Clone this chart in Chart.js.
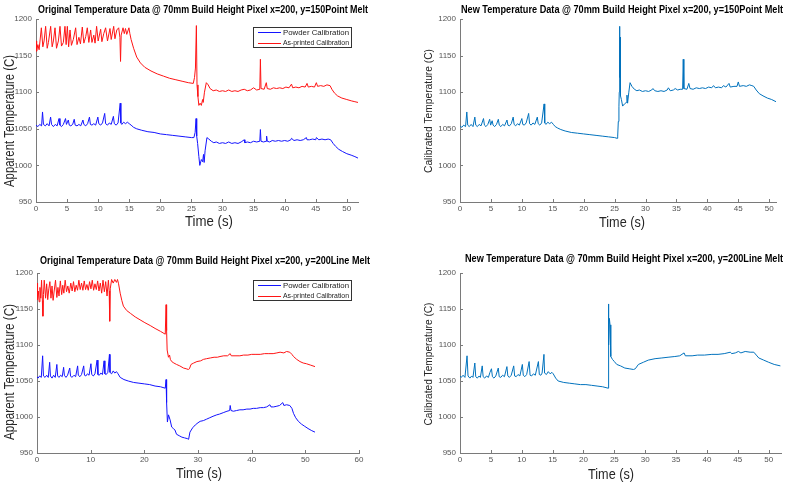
<!DOCTYPE html>
<html><head><meta charset="utf-8">
<script src="https://cdn.jsdelivr.net/npm/chart.js@4"></script>
<style>
html,body{margin:0;padding:0;background:#fff;width:787px;height:484px;overflow:hidden;}
.p{position:absolute;}
canvas{display:block;}
</style>
</head><body>
<div class="p" style="left:0;top:0;"><canvas id="cA" width="400" height="240"></canvas></div>
<div class="p" style="left:400px;top:0;"><canvas id="cB" width="387" height="240"></canvas></div>
<div class="p" style="left:0;top:240px;"><canvas id="cC" width="400" height="244"></canvas></div>
<div class="p" style="left:400px;top:240px;"><canvas id="cD" width="387" height="244"></canvas></div>
<script>
// ---------------- DATA ----------------
const titleA = "Original Temperature Data @ 70mm Build Height Pixel x=200, y=150Point Melt";
const titleB = "New Temperature Data @ 70mm Build Height Pixel x=200, y=150Point Melt";
const titleC = "Original Temperature Data @ 70mm Build Height Pixel x=200, y=200Line Melt";
const titleD = "New Temperature Data @ 70mm Build Height Pixel x=200, y=200Line Melt";
const seriesNames = ["Powder Calibration", "As-printed Calibration"];
const yTitleLeft = "Apparent Temperature (C)";
const yTitleRight = "Calibrated Temperature (C)";
const xTitle = "Time (s)";

const yTicks = [950, 1000, 1050, 1100, 1150, 1200];
const xTicks50 = [0, 5, 10, 15, 20, 25, 30, 35, 40, 45, 50];
const xTicks60 = [0, 10, 20, 30, 40, 50, 60];

// [time (s), temperature (C)]
const powderA = [[0,1055],[0.3,1053],[0.6,1056],[0.9,1054],[1.05,1073],[1.2,1056],[1.5,1054],[1.8,1057],[2.1,1054],[2.35,1066],[2.5,1056],[2.8,1053],[3.1,1056],[3.4,1054],[3.7,1064],[3.85,1055],[4.1,1053],[4.4,1056],[4.75,1064],[4.9,1056],[5.2,1062],[5.35,1055],[5.6,1054],[5.9,1056],[6.15,1063],[6.3,1055],[6.6,1054],[6.9,1056],[7.2,1054],[7.55,1062],[7.7,1056],[8.0,1054],[8.3,1057],[8.6,1066],[8.75,1056],[9.0,1055],[9.3,1057],[9.6,1055],[9.95,1066],[10.1,1057],[10.4,1055],[10.7,1058],[11.05,1071],[11.2,1057],[11.5,1055],[11.8,1058],[12.1,1056],[12.45,1067],[12.6,1057],[12.9,1055],[13.2,1058],[13.55,1085],[13.65,1058],[13.8,1056],[14.1,1059],[14.4,1057],[14.7,1059],[15.0,1057],[15.3,1055],[15.7,1052],[16.2,1050],[17,1048],[18,1046],[19,1045],[20,1043],[21,1042],[22,1041],[23,1040],[24,1039],[25,1038],[25.4,1038],[25.6,1045],[25.75,1064],[25.85,1040],[26.0,1030],[26.2,1012],[26.35,1000],[26.6,1008],[26.8,1005],[26.95,1015],[27.05,1004],[27.2,1020],[27.5,1038],[27.8,1036],[28.2,1033],[28.6,1031],[29,1032],[29.5,1030],[30,1031],[30.5,1030],[31,1032],[31.5,1030],[32,1031],[32.5,1030],[33,1032],[33.5,1035],[33.6,1031],[34,1032],[34.5,1031],[35,1033],[35.5,1032],[36.0,1033],[36.1,1049],[36.2,1033],[36.6,1032],[37.0,1033],[37.1,1040],[37.2,1033],[37.6,1032],[38,1034],[38.5,1033],[39,1034],[39.5,1033],[40,1034],[40.5,1033],[41,1035],[41.1,1037],[41.5,1034],[42,1035],[42.5,1034],[43,1035],[43.5,1038],[43.6,1035],[44,1035],[44.5,1036],[45,1035],[45.1,1038],[45.5,1035],[46,1036],[46.5,1035],[47,1036],[47.4,1035],[47.8,1030],[48.2,1026],[48.7,1022],[49.3,1019],[50,1016],[50.7,1014],[51.3,1012],[51.8,1010]];

const printedA = [[0,1170],[0.1,1156],[0.3,1165],[0.5,1158],[0.86,1188],[1.1,1162],[1.3,1170],[1.55,1190],[1.8,1160],[2.0,1168],[2.36,1190],[2.6,1162],[2.8,1170],[3.06,1188],[3.3,1160],[3.6,1170],[3.86,1190],[4.1,1163],[4.4,1168],[4.66,1190],[4.85,1165],[5.04,1190],[5.25,1162],[5.47,1185],[5.7,1164],[6.0,1172],[6.38,1188],[6.6,1165],[6.9,1175],[7.15,1166],[7.45,1189],[7.7,1167],[8.0,1176],[8.25,1188],[8.5,1168],[8.79,1185],[9.0,1168],[9.3,1178],[9.5,1167],[9.75,1190],[10.0,1170],[10.4,1186],[10.6,1169],[10.9,1180],[11.2,1188],[11.5,1170],[11.9,1187],[12.1,1172],[12.5,1190],[12.7,1173],[13.0,1185],[13.3,1188],[13.5,1175],[13.6,1142],[13.7,1178],[14.0,1188],[14.2,1180],[14.4,1187],[14.6,1179],[14.95,1188],[15.1,1180],[15.3,1172],[15.7,1160],[16.2,1148],[16.8,1140],[17.5,1134],[18.5,1129],[19.5,1125],[20.5,1122],[21.5,1119],[22.5,1117],[23.5,1115],[24.5,1113],[25.3,1112],[25.5,1120],[25.65,1133],[25.8,1191],[25.9,1110],[26.05,1094],[26.2,1082],[26.4,1085],[26.6,1082],[26.8,1090],[26.9,1086],[27.1,1100],[27.4,1113],[27.7,1110],[28.0,1105],[28.5,1102],[29,1103],[29.5,1101],[30,1102],[30.5,1101],[31,1103],[31.5,1101],[32,1102],[32.5,1101],[33,1103],[33.5,1104],[34,1102],[34.5,1103],[35,1106],[35.5,1103],[36.0,1104],[36.1,1145],[36.2,1105],[36.7,1104],[37.05,1113],[37.2,1105],[37.7,1104],[38.2,1106],[38.7,1105],[39.2,1106],[39.7,1105],[40.2,1107],[40.7,1106],[41.1,1111],[41.3,1106],[41.8,1107],[42.3,1106],[42.8,1108],[43.3,1107],[43.6,1112],[43.8,1107],[44.3,1108],[44.8,1107],[45.1,1113],[45.3,1108],[45.8,1109],[46.3,1108],[46.8,1110],[47.3,1109],[47.6,1104],[48,1099],[48.5,1095],[49.2,1092],[50,1090],[50.8,1088],[51.3,1087],[51.8,1086]];

const newB = [[0,1054],[0.3,1052],[0.6,1055],[0.9,1053],[1.1,1073],[1.25,1055],[1.5,1053],[1.8,1056],[2.1,1053],[2.4,1066],[2.55,1055],[2.8,1053],[3.1,1056],[3.4,1054],[3.8,1064],[3.95,1055],[4.2,1053],[4.5,1056],[4.8,1063],[4.95,1055],[5.2,1061],[5.35,1055],[5.6,1053],[5.9,1056],[6.2,1063],[6.35,1055],[6.6,1053],[6.9,1056],[7.2,1054],[7.6,1062],[7.75,1055],[8.0,1054],[8.3,1057],[8.6,1066],[8.75,1056],[9.0,1054],[9.3,1057],[9.6,1055],[10.0,1064],[10.15,1056],[10.4,1055],[10.7,1058],[11.1,1071],[11.25,1057],[11.5,1055],[11.8,1058],[12.1,1056],[12.5,1066],[12.65,1057],[12.9,1055],[13.2,1058],[13.6,1084],[13.7,1058],[13.9,1056],[14.2,1059],[14.5,1057],[14.8,1059],[15.1,1056],[15.4,1053],[15.8,1051],[16.3,1049],[17,1047],[18,1045],[19,1044],[20,1043],[21,1042],[22,1041],[23,1040],[24,1039],[25,1038],[25.4,1037],[25.5,1040],[25.6,1060],[25.7,1080],[25.75,1100],[25.8,1190],[25.85,1120],[25.9,1175],[25.95,1095],[26.1,1090],[26.3,1081],[26.6,1084],[26.9,1086],[27.0,1096],[27.1,1085],[27.3,1100],[27.5,1113],[27.8,1108],[28.2,1104],[28.6,1102],[29,1103],[29.5,1101],[30,1102],[30.5,1101],[31,1103],[31.2,1105],[31.5,1102],[32,1101],[32.5,1102],[33,1101],[33.5,1103],[33.7,1106],[34,1102],[34.5,1103],[34.8,1105],[35.2,1103],[35.6,1104],[36.0,1104],[36.1,1145],[36.2,1105],[36.7,1104],[37.0,1112],[37.2,1105],[37.7,1104],[38.2,1106],[38.7,1105],[39.2,1106],[39.7,1105],[40.2,1107],[40.7,1106],[41.0,1109],[41.3,1106],[41.8,1107],[42.3,1106],[42.6,1109],[43.0,1107],[43.5,1112],[43.7,1107],[44.3,1108],[44.8,1108],[45.0,1114],[45.2,1108],[45.8,1109],[46.3,1108],[46.8,1110],[47.2,1109],[47.5,1108],[47.9,1103],[48.4,1098],[49,1095],[49.7,1092],[50.4,1090],[51.1,1087]];

const powderC = [[0,1056],[0.2,1054],[0.5,1057],[0.8,1055],[1.05,1085],[1.2,1057],[1.5,1055],[1.8,1058],[2.1,1055],[2.36,1076],[2.5,1057],[2.8,1054],[3.1,1058],[3.4,1055],[3.7,1073],[3.85,1057],[4.1,1055],[4.4,1058],[4.7,1056],[4.96,1069],[5.1,1058],[5.4,1055],[5.7,1058],[6.1,1068],[6.25,1057],[6.5,1055],[6.9,1058],[7.2,1056],[7.57,1071],[7.7,1058],[8.0,1056],[8.3,1059],[8.7,1071],[8.85,1058],[9.1,1057],[9.4,1060],[9.7,1058],[10.05,1074],[10.2,1059],[10.5,1057],[10.8,1060],[11.2,1079],[11.35,1059],[11.6,1058],[11.9,1061],[12.2,1059],[12.5,1078],[12.65,1060],[12.9,1059],[13.2,1062],[13.5,1087],[13.6,1062],[13.9,1060],[14.2,1064],[14.5,1061],[14.8,1063],[15.1,1060],[15.5,1055],[16.2,1052],[17,1050],[18,1048],[19,1047],[20,1046],[21,1045],[22,1043],[23,1042],[23.9,1040],[24.05,1052],[24.15,1020],[24.3,993],[24.5,1003],[24.8,996],[25.1,986],[25.4,984],[25.7,982],[26.0,976],[26.5,974],[27,972],[27.5,971],[28.0,970],[28.25,969],[28.5,979],[29,985],[29.5,989],[30,992],[30.4,994],[31,995],[31.6,997],[32.2,999],[32.8,1001],[33.5,1003],[34,1004],[34.7,1006],[35.4,1008],[35.9,1009],[36.0,1016],[36.15,1009],[36.6,1008],[37.2,1009],[37.8,1010],[38.4,1010],[39.1,1011],[39.7,1011],[40.3,1012],[40.9,1012],[41.6,1013],[42.2,1013],[42.8,1014],[43.4,1017],[43.6,1014],[44.1,1014],[44.7,1015],[45.2,1016],[45.8,1020],[46.0,1016],[46.5,1017],[47.1,1016],[47.5,1012],[47.8,1005],[48.2,999],[48.7,994],[49.3,990],[49.9,987],[50.5,984],[51.2,981],[51.8,979]];

const printedC = [[0,1186],[0.1,1163],[0.25,1175],[0.4,1160],[0.55,1180],[0.7,1165],[0.85,1190],[1.0,1162],[1.1,1140],[1.2,1170],[1.35,1190],[1.6,1165],[1.8,1185],[2.0,1163],[2.2,1178],[2.4,1188],[2.6,1165],[2.8,1182],[3.0,1162],[3.2,1175],[3.45,1190],[3.7,1166],[3.9,1180],[4.1,1168],[4.35,1189],[4.6,1170],[4.8,1183],[5.0,1172],[5.25,1190],[5.5,1174],[5.75,1182],[6.0,1172],[6.3,1186],[6.55,1175],[6.8,1188],[7.05,1174],[7.3,1183],[7.55,1176],[7.8,1190],[8.05,1177],[8.3,1186],[8.55,1176],[8.8,1189],[9.05,1177],[9.3,1184],[9.55,1176],[9.8,1188],[10.05,1178],[10.3,1190],[10.55,1176],[10.8,1185],[11.05,1177],[11.3,1189],[11.55,1175],[11.8,1186],[12.05,1172],[12.3,1190],[12.55,1174],[12.8,1188],[13.05,1168],[13.3,1190],[13.45,1175],[13.55,1133],[13.65,1178],[13.9,1191],[14.2,1186],[14.5,1191],[14.8,1187],[15.0,1191],[15.2,1185],[15.5,1172],[15.8,1162],[16.1,1154],[16.7,1148],[17.4,1144],[18.3,1139],[19.2,1135],[20.1,1131],[21.1,1127],[22.0,1123],[23.0,1119],[23.9,1115],[24.05,1156],[24.15,1120],[24.25,1093],[24.5,1083],[24.7,1086],[24.85,1080],[25.1,1077],[25.5,1075],[26,1073],[26.6,1071],[27.3,1068],[27.8,1067],[28.2,1066],[28.4,1067],[28.7,1073],[29.2,1075],[29.8,1077],[30.5,1078],[31.0,1080],[31.6,1081],[32.3,1082],[33.0,1083],[33.6,1083],[34.1,1084],[34.8,1085],[35.5,1085],[36.0,1088],[36.2,1085],[36.9,1085],[37.8,1085],[38.5,1086],[39.3,1086],[40.0,1087],[40.8,1087],[41.6,1087],[42.4,1088],[43.2,1088],[44.0,1088],[44.7,1089],[45.3,1090],[46.0,1089],[46.5,1091],[47.1,1090],[47.5,1087],[47.8,1084],[48.4,1080],[49,1077],[49.6,1075],[50.2,1074],[51,1072],[51.8,1070]];

const newD = [[0,1057],[0.2,1055],[0.5,1058],[0.8,1055],[1.14,1085],[1.3,1057],[1.6,1054],[1.9,1057],[2.1,1055],[2.4,1075],[2.55,1056],[2.8,1054],[3.1,1057],[3.3,1055],[3.6,1071],[3.75,1056],[4.0,1054],[4.3,1057],[4.6,1055],[4.85,1062],[5.1,1067],[5.25,1056],[5.5,1054],[5.8,1057],[6.2,1068],[6.35,1056],[6.6,1055],[6.9,1058],[7.2,1056],[7.6,1070],[7.75,1057],[8.0,1055],[8.3,1058],[8.7,1071],[8.85,1057],[9.1,1056],[9.4,1059],[9.7,1057],[10.1,1073],[10.25,1058],[10.5,1056],[10.8,1059],[11.2,1077],[11.35,1058],[11.6,1057],[11.9,1060],[12.2,1058],[12.7,1077],[12.85,1059],[13.1,1058],[13.3,1061],[13.6,1087],[13.7,1061],[14.0,1059],[14.3,1063],[14.6,1060],[14.9,1062],[15.1,1060],[15.5,1054],[15.9,1050],[16.8,1048],[17.7,1047],[18.6,1046],[19.5,1045],[20.4,1045],[21.3,1044],[22.2,1043],[23.1,1042],[24.0,1040],[24.05,1157],[24.1,1100],[24.2,1137],[24.3,1128],[24.4,1090],[24.45,1084],[24.7,1080],[25.0,1077],[25.4,1073],[26.0,1071],[26.7,1068],[27.4,1067],[28.1,1066],[28.4,1067],[28.9,1073],[29.7,1076],[30.5,1079],[31.6,1081],[32.7,1082],[33.7,1083],[34.8,1084],[35.6,1085],[36.3,1089],[36.5,1085],[37.6,1085],[38.5,1086],[39.6,1086],[40.8,1087],[41.8,1087],[42.8,1088],[43.8,1090],[44.0,1088],[44.6,1089],[45.1,1091],[45.5,1089],[46.2,1091],[47.0,1090],[47.6,1090],[48.0,1086],[48.4,1082],[49.2,1079],[50,1076],[50.9,1073],[51.9,1071]];

const yRange = [950, 1200];
const xMaxA = 51.8, xMaxB = 51.1, xMaxC = 60, xMaxD = 52;

// ---------------- STYLE / LAYOUT ----------------
const NARROW = '"Liberation Sans Narrow", "Liberation Sans", Arial, sans-serif';
const AXIS_COLOR = '#7a7a7a';
const TICK_COLOR = '#555555';
const BLUE = 'rgb(20,20,255)';
const RED = 'rgb(255,20,20)';
const MATBLUE = 'rgb(0,114,189)';

function pts(arr){ return arr.map(p => ({x:p[0], y:p[1]})); }

const panels = [
  {id:'A', canvas:'cA', reg:[0,0,400,240], plot:[36,19,358,202], xmax:xMaxA, xt:xTicks50,
   title:titleA, tpos:[203,10,330], ytitle:yTitleLeft, ypos:[10,121,132], yfont:15,
   xpos:[209,222,48], legend:[253,27,352,48],
   sets:[{d:powderA,c:BLUE},{d:printedA,c:RED}]},
  {id:'B', canvas:'cB', reg:[400,0,787,240], plot:[460,19,776,202], xmax:xMaxB, xt:xTicks50,
   title:titleB, tpos:[622,10,322], ytitle:yTitleRight, ypos:[429,111,124], yfont:11.5,
   xpos:[622,223,46], legend:null,
   sets:[{d:newB,c:MATBLUE}]},
  {id:'C', canvas:'cC', reg:[0,240,400,484], plot:[37,273,359,453], xmax:xMaxC, xt:xTicks60,
   title:titleC, tpos:[205,261,330], ytitle:yTitleLeft, ypos:[10,372,136], yfont:15,
   xpos:[199,474,46], legend:[253,280,352,301],
   sets:[{d:powderC,c:BLUE},{d:printedC,c:RED}]},
  {id:'D', canvas:'cD', reg:[400,240,787,484], plot:[460,273,781,453], xmax:xMaxD, xt:xTicks50,
   title:titleD, tpos:[624,259,318], ytitle:yTitleRight, ypos:[429,364,123], yfont:11.5,
   xpos:[611,475,46], legend:null,
   sets:[{d:newD,c:MATBLUE}]}
];

const YW = 30, XH = 14;

function decor(p){
  const ox = p.reg[0], oy = p.reg[1];
  return {
    id: 'decor' + p.id,
    afterDraw(chart){
      const ctx = chart.ctx, a = chart.chartArea, xs = chart.scales.x, ys = chart.scales.y;
      ctx.save();
      // inward ticks
      ctx.strokeStyle = AXIS_COLOR; ctx.lineWidth = 1;
      ctx.beginPath();
      xs.ticks.forEach(t => { const x = Math.round(xs.getPixelForValue(t.value)) + 0.5; ctx.moveTo(x, a.bottom); ctx.lineTo(x, a.bottom - 3); });
      ys.ticks.forEach(t => { const y = Math.round(ys.getPixelForValue(t.value)) + 0.5; ctx.moveTo(a.left, y); ctx.lineTo(a.left + 3, y); });
      ctx.stroke();
      // title
      ctx.fillStyle = '#000';
      ctx.textAlign = 'center'; ctx.textBaseline = 'middle';
      ctx.font = 'bold 10.5px ' + NARROW;
      ctx.fillText(p.title, p.tpos[0] - ox, p.tpos[1] - oy, p.tpos[2]);
      // x title
      ctx.fillStyle = '#262626';
      ctx.font = '15px ' + NARROW;
      ctx.fillText(xTitle, p.xpos[0] - ox, p.xpos[1] - oy, p.xpos[2]);
      // y title
      ctx.save();
      ctx.translate(p.ypos[0] - ox, p.ypos[1] - oy);
      ctx.rotate(-Math.PI / 2);
      ctx.font = p.yfont + 'px ' + NARROW;
      ctx.fillText(p.ytitle, 0, 0, p.ypos[2]);
      ctx.restore();
      // legend
      if (p.legend) {
        const l = p.legend[0] - ox, t = p.legend[1] - oy, r = p.legend[2] - ox, b = p.legend[3] - oy;
        ctx.fillStyle = '#fff';
        ctx.fillRect(l, t, r - l, b - t);
        ctx.strokeStyle = '#333'; ctx.lineWidth = 1;
        ctx.strokeRect(l + 0.5, t + 0.5, r - l - 1, b - t - 1);
        const rows = [t + (b - t) * 0.26, t + (b - t) * 0.74];
        p.sets.forEach((s, i) => {
          const ry = Math.round(rows[i]) + 0.5;
          ctx.strokeStyle = s.c; ctx.lineWidth = 1;
          ctx.beginPath(); ctx.moveTo(l + 5, ry); ctx.lineTo(l + 28, ry); ctx.stroke();
          ctx.fillStyle = '#222'; ctx.textAlign = 'left'; ctx.textBaseline = 'middle';
          ctx.font = '8px ' + NARROW;
          ctx.fillText(seriesNames[i], l + 30, rows[i], r - l - 33);
        });
      }
      ctx.restore();
    }
  };
}

panels.forEach(p => {
  const [rl, rt, rr, rb] = p.reg;
  const [pl, pt, pr, pb] = p.plot;
  const xt = p.xt;
  new Chart(document.getElementById(p.canvas), {
    type: 'line',
    data: { datasets: p.sets.map((s, i) => ({
      label: seriesNames[i] || 'New', data: pts(s.d), borderColor: s.c, backgroundColor: s.c,
      borderWidth: 1, pointRadius: 0, fill: false, tension: 0 })) },
    options: {
      responsive: false, animation: false, events: [],
      layout: { padding: { left: pl - rl - YW, top: pt - rt, right: rr - pr, bottom: rb - pb - XH } },
      plugins: { legend: { display: false }, title: { display: false }, tooltip: { enabled: false } },
      scales: {
        x: { type: 'linear', min: 0, max: p.xmax,
          ticks: { color: TICK_COLOR, font: { size: 8, family: NARROW }, padding: 2, maxRotation: 0, autoSkip: false,
                   callback: v => String(v) },
          grid: { display: false, drawTicks: false },
          border: { display: true, color: AXIS_COLOR, width: 1 },
          afterBuildTicks(s){ s.ticks = xt.map(v => ({ value: v })); },
          afterFit(s){ s.height = XH; s.paddingLeft = 0; s.paddingRight = 0; } },
        y: { type: 'linear', min: yRange[0], max: yRange[1],
          ticks: { color: TICK_COLOR, font: { size: 8, family: NARROW }, padding: 4, autoSkip: false,
                   callback: v => String(v) },
          grid: { display: false, drawTicks: false },
          border: { display: true, color: AXIS_COLOR, width: 1 },
          afterBuildTicks(s){ s.ticks = yTicks.map(v => ({ value: v })); },
          afterFit(s){ s.width = YW; s.paddingTop = 0; s.paddingBottom = 0; } }
      }
    },
    plugins: [decor(p)]
  });
});
</script>
</body></html>
